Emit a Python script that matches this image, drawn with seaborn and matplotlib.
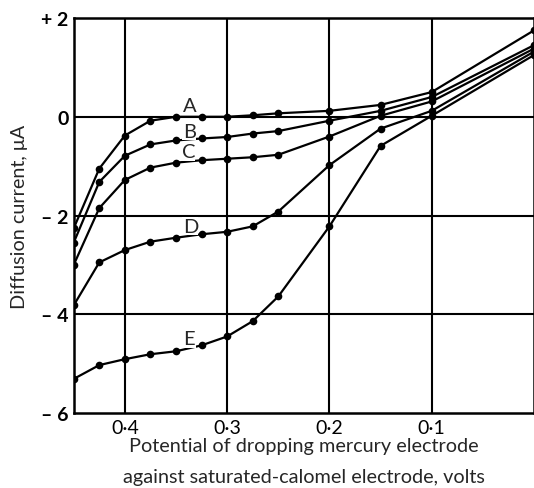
import matplotlib
matplotlib.use("Agg")
import matplotlib.pyplot as plt
import pandas as pd
import seaborn as sns

# potential of the dropping mercury electrode (volts vs S.C.E.)
potential = [0.45, 0.425, 0.40, 0.375, 0.35, 0.325, 0.30, 0.275, 0.25, 0.20, 0.15, 0.10, 0.0]

# diffusion current, microamps
curve_a = [-2.26, -1.05, -0.38, -0.08, 0.0, 0.0, 0.0, 0.03, 0.07, 0.12, 0.24, 0.50, 1.75]
curve_b = [-2.55, -1.32, -0.79, -0.56, -0.48, -0.44, -0.41, -0.34, -0.29, -0.08, 0.12, 0.40, 1.45]
curve_c = [-3.00, -1.85, -1.28, -1.03, -0.93, -0.88, -0.85, -0.82, -0.77, -0.40, 0.02, 0.31, 1.38]
curve_d = [-3.82, -2.95, -2.70, -2.53, -2.45, -2.38, -2.33, -2.22, -1.92, -0.98, -0.24, 0.12, 1.32]
curve_e = [-5.31, -5.03, -4.91, -4.81, -4.75, -4.63, -4.45, -4.14, -3.64, -2.22, -0.59, 0.02, 1.25]

curve_names = ["A", "B", "C", "D", "E"]
label_pos = [(0.337, 0.22), (0.337, -0.30), (0.338, -0.71), (0.336, -2.22), (0.337, -4.50)]

x_ticks = [0.4, 0.3, 0.2, 0.1]
x_ticklabels = ["0·4", "0·3", "0·2", "0·1"]
y_ticks = [2, 0, -2, -4, -6]
y_ticklabels = ["+ 2", "0", "– 2", "– 4", "– 6"]

frames = []
for name, vals in zip(curve_names, [curve_a, curve_b, curve_c, curve_d, curve_e]):
    frames.append(pd.DataFrame({"potential": potential, "current": vals, "curve": name}))
df = pd.concat(frames, ignore_index=True)

sns.set_style("white")
plt.rcParams["font.family"] = ["Lato", "DejaVu Sans"]

fig = plt.figure(figsize=(5.34, 4.89), dpi=100)
ax = fig.add_axes([0.1386, 0.1534, 0.8614, 0.8077])

sns.lineplot(
    data=df,
    x="potential",
    y="current",
    units="curve",
    estimator=None,
    color="black",
    linewidth=1.6,
    marker="o",
    markersize=5.5,
    markeredgewidth=0,
    ax=ax,
)

for name, (lx, ly) in zip(curve_names, label_pos):
    ax.text(lx, ly, name, fontsize=14.5, ha="center", va="center",
            bbox=dict(facecolor="white", edgecolor="none", pad=0.3))

ax.set_xlim(0.4497, 0.0)
ax.set_ylim(-6, 2)
ax.set_xticks(x_ticks)
ax.set_xticklabels(x_ticklabels)
ax.set_yticks(y_ticks)
ax.set_yticklabels(y_ticklabels, fontweight="bold")
ax.tick_params(length=0, labelsize=14, colors="black", pad=4)

for v in x_ticks:
    ax.axvline(v, color="black", linewidth=1.5, zorder=0)
for v in [0, -2, -4]:
    ax.axhline(v, color="black", linewidth=1.5, zorder=0)

for spine in ax.spines.values():
    spine.set_color("black")
    spine.set_linewidth(1.8)

ax.set_xlabel("Potential of dropping mercury electrode\nagainst saturated-calomel electrode, volts",
              fontsize=14.3, linespacing=2.0, labelpad=1)
ax.set_ylabel("Diffusion current, μA", fontsize=14.3, labelpad=9)

fig.savefig("out.png", dpi=100)
